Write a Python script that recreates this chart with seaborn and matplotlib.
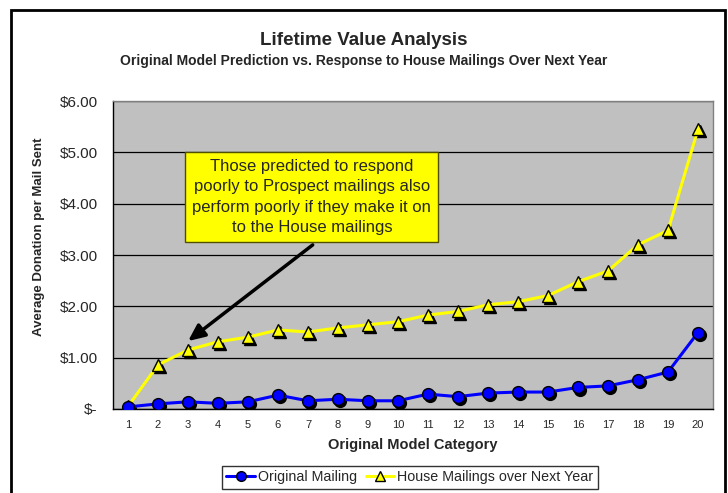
import numpy as np
import pandas as pd
import matplotlib
matplotlib.use('Agg')
import matplotlib.pyplot as plt
import matplotlib.transforms as mtransforms
from matplotlib.patches import Rectangle
import seaborn as sns

# datos
categorias = list(range(1, 21))
original_mailing = [0.04, 0.10, 0.14, 0.11, 0.14, 0.27, 0.16, 0.19, 0.16, 0.16,
                    0.29, 0.24, 0.31, 0.33, 0.33, 0.42, 0.45, 0.57, 0.72, 1.49]
house_mailings = [0.05, 0.86, 1.15, 1.31, 1.40, 1.54, 1.50, 1.58, 1.64, 1.70,
                  1.83, 1.90, 2.03, 2.09, 2.21, 2.48, 2.69, 3.20, 3.48, 5.45]
y_ticks = [0, 1, 2, 3, 4, 5, 6]
y_labels = ['$-', '$1.00', '$2.00', '$3.00', '$4.00', '$5.00', '$6.00']

df = pd.DataFrame({'Categoria': categorias,
                   'Original Mailing': original_mailing,
                   'House Mailings over Next Year': house_mailings})

sns.set_style('white')
plt.rcParams['font.family'] = ['Liberation Sans', 'DejaVu Sans']

fig = plt.figure(figsize=(7.28, 4.93), dpi=100)
ax = fig.add_axes([0.1552, 0.1704, 0.8242, 0.6247])
ax.set_facecolor('#C0C0C0')

# sombras de los marcadores
sombra = mtransforms.offset_copy(ax.transData, fig=fig, x=1.5, y=-1.5, units='points')
ax.plot(df['Categoria'], df['House Mailings over Next Year'], linestyle='none', marker='^',
        markersize=8.5, color='black', transform=sombra, zorder=3)
ax.plot(df['Categoria'], df['Original Mailing'], linestyle='none', marker='o',
        markersize=8.5, color='black', transform=sombra, zorder=3)

sns.lineplot(data=df, x='Categoria', y='House Mailings over Next Year', ax=ax,
             color='#FFFF00', linewidth=2.2, marker='^', markersize=8.5,
             markerfacecolor='#FFFF00', markeredgecolor='black', markeredgewidth=1,
             label='House Mailings over Next Year', zorder=4)
sns.lineplot(data=df, x='Categoria', y='Original Mailing', ax=ax,
             color='#0000FF', linewidth=2.2, marker='o', markersize=8.5,
             markerfacecolor='#0000FF', markeredgecolor='black', markeredgewidth=1,
             label='Original Mailing', zorder=5)

ax.set_xlim(0.5, 20.5)
ax.set_ylim(0, 6)
ax.set_yticks(y_ticks)
ax.set_yticklabels(y_labels, fontsize=11)
ax.set_xticks(categorias)
ax.set_xticklabels([str(c) for c in categorias], fontsize=8)
ax.set_xticks(np.arange(0.5, 21, 1), minor=True)
ax.tick_params(axis='x', which='major', length=0, pad=8)
ax.tick_params(axis='x', which='minor', length=4, direction='out', color='black', width=1)
ax.tick_params(axis='y', which='major', length=4, direction='out', color='black', width=1, pad=7)
ax.grid(axis='y', color='black', linewidth=0.9)
ax.set_axisbelow(True)
for lado in ['top', 'right']:
    ax.spines[lado].set_color('#808080')
    ax.spines[lado].set_linewidth(1)
for lado in ['left', 'bottom']:
    ax.spines[lado].set_color('black')
    ax.spines[lado].set_linewidth(1)

ax.set_xlabel('Original Model Category', fontsize=10.5, fontweight='bold', labelpad=6)
ax.set_ylabel('Average Donation per Mail Sent', fontsize=9.5, fontweight='bold')
ax.yaxis.set_label_coords(-0.113, 0.558)

fig.text(0.5, 0.918, 'Lifetime Value Analysis', ha='center', va='center',
         fontsize=13.5, fontweight='bold')
fig.text(0.5, 0.876, 'Original Model Prediction vs. Response to House Mailings Over Next Year',
         ha='center', va='center', fontsize=10, fontweight='bold')

# caja de texto y flecha
ax.text(7.13, 4.13, 'Those predicted to respond\npoorly to Prospect mailings also\n'
        'perform poorly if they make it on\nto the House mailings',
        ha='center', va='center', fontsize=12, linespacing=1.42, zorder=6,
        bbox=dict(boxstyle='square,pad=0.42', facecolor='#FFFF00', edgecolor='#505000', linewidth=1))
ax.annotate('', xy=(2.93, 1.29), xytext=(7.23, 3.23),
            arrowprops=dict(arrowstyle='-|>,head_width=0.45,head_length=1.0',
                            color='black', linewidth=2.5), zorder=6)

handles, labels = ax.get_legend_handles_labels()
orden = [labels.index('Original Mailing'), labels.index('House Mailings over Next Year')]
leg = fig.legend([handles[i] for i in orden], [labels[i] for i in orden],
                 loc='center', bbox_to_anchor=(0.563, 0.032), ncol=2, fontsize=10.3,
                 frameon=True, fancybox=False, edgecolor='black', handlelength=2,
                 handletextpad=0.2, columnspacing=0.6, borderpad=0.3, borderaxespad=0)
leg.get_frame().set_linewidth(1)
for h in leg.legend_handles:
    h.set_markersize(7)
if ax.get_legend():
    ax.get_legend().remove()

# borde del grafico
fig.patches.append(Rectangle((11 / 728, -0.05), 714 / 728, 1 - 10 / 493 + 0.05,
                             transform=fig.transFigure, fill=False, edgecolor='black',
                             linewidth=2, clip_on=False))

fig.savefig('out.png', dpi=100)
